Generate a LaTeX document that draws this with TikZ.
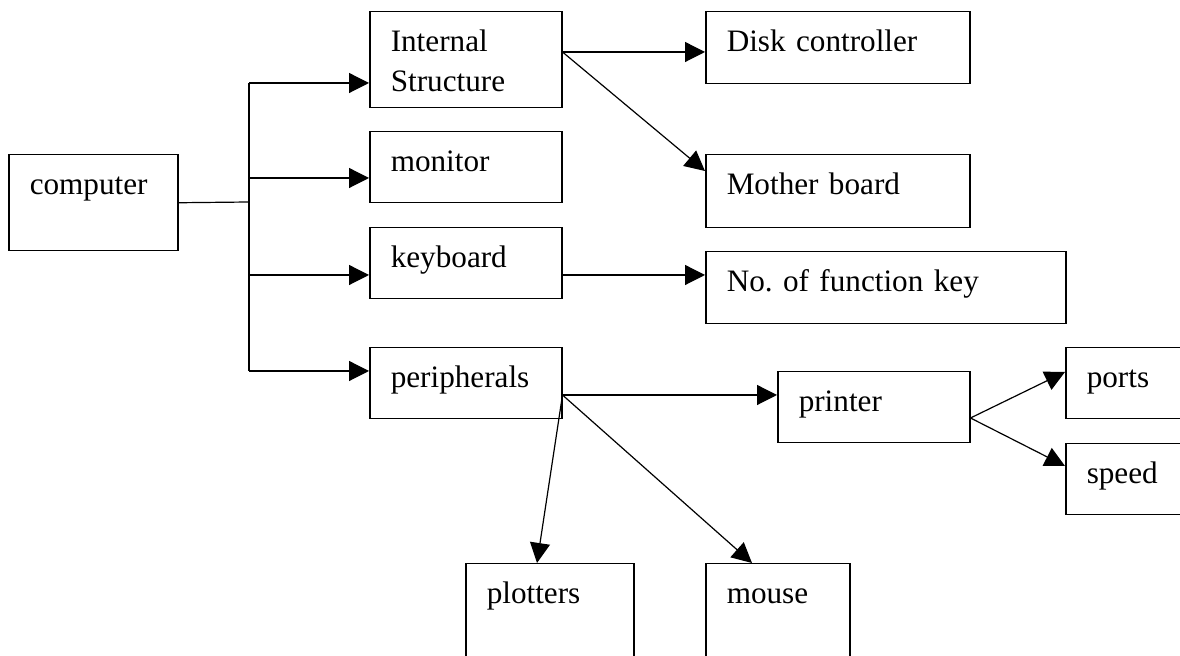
\documentclass[tikz,border=0pt]{standalone}
\usepackage{fontspec}
\setmainfont{Liberation Serif}
\frenchspacing
\usepackage{tikz}
\usetikzlibrary{arrows.meta}
\usetikzlibrary{calc}
\tikzstyle{block}=[draw,line width=0.75pt,anchor=north west,align=left,inner xsep=10.5pt,inner ysep=0pt,text height=20pt,font=\fontsize{15.6}{20}\selectfont]
\tikzstyle{link} = [draw,line width=0.6pt]
\tikzstyle{arr} = [draw,line width=0.6pt,-{Triangle[length=10pt,width=10pt]}]

\begin{document}
\begin{tikzpicture}[x=0.5pt,y=-0.5pt]
\clip (0,0) rectangle (1180,656);

% left part: computer and its four parts
    \node[block, text width=63.5pt, text depth=28pt] (comp) at (8,154) {computer};

  \foreach \pos/\name/\td/\label in {{(369,11)/intl/28pt/{Internal\\Structure}}, {(369,131)/mon/15.5pt/monitor}, {(369,227)/kbd/15.5pt/keyboard}, {(369,347)/peri/15.5pt/peripherals}}
        \node[block, text width=75pt, text depth=\td] (\name) at \pos {\label};

% right part
  \foreach \pos/\name/\tw/\td/\label in {{(705,11)/disk/111pt/16pt/Disk controller}, {(705,154)/mboard/111pt/16.5pt/Mother board}, {(705,251)/fkey/159pt/16pt/No. of function key}, {(777,371)/prn/75pt/15.5pt/printer}, {(1065,347)/ports/75pt/15.5pt/ports}, {(1065,443)/speed/75pt/15.5pt/speed}, {(465,563)/plot/63pt/28pt/plotters}, {(705,563)/mouse/51pt/28pt/mouse}}
        \node[block, text width=\tw, text depth=\td] (\name) at \pos {\label};

    % where the connectors meet the boxes
    \coordinate (bus) at (249,202);
    \coordinate (intl-in) at ([yshift=-36pt]intl.north west);
    \coordinate (mon-in) at ([yshift=-23.5pt]mon.north west);
    \coordinate (kbd-in) at ([yshift=-24pt]kbd.north west);
    \coordinate (peri-in) at ([yshift=-12pt]peri.north west);
    \coordinate (intl-out) at ([yshift=-20.5pt]intl.north east);
    \coordinate (kbd-out) at ([yshift=-24pt]kbd.north east);
    \coordinate (peri-out) at ([yshift=-24pt]peri.north east);
    \coordinate (prn-out) at ([yshift=-23.5pt]prn.north east);

    \path[link] (comp.east) -- (bus);
    \path[link] (bus |- intl-in) -- (bus |- peri-in);
   \foreach \dest in {intl, mon, kbd, peri}
          \path[arr] (bus |- \dest-in) -- (\dest-in);

    \path[arr] (intl-out) -- (intl-out -| disk.west);
    \path[arr] (intl-out) -- ([yshift=-8.5pt]mboard.north west);
    \path[arr] (kbd-out) -- (kbd-out -| fkey.west);
    \path[arr] (peri-out) -- (peri-out -| prn.west);
    \path[arr] (peri-out) -- ([xshift=36pt]plot.north west);
    \path[arr] (peri-out) -- ([xshift=23.5pt]mouse.north west);
    \path[arr] (prn-out) -- ([yshift=-12.5pt]ports.north west);
    \path[arr] (prn-out) -- ([yshift=-11.5pt]speed.north west);

\end{tikzpicture}
\end{document}
